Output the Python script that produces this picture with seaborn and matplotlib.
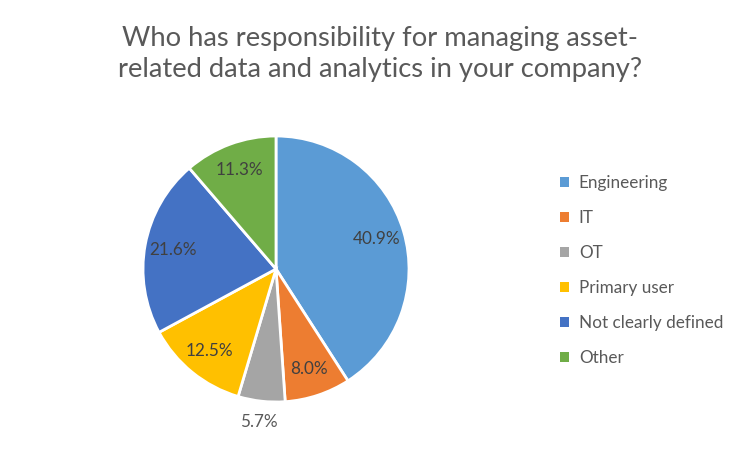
import matplotlib
matplotlib.use("Agg")
import matplotlib.pyplot as plt
import seaborn as sns
import numpy as np
from matplotlib.patches import Patch

categories = ["Engineering", "IT", "OT", "Primary user", "Not clearly defined", "Other"]
values = [40.9, 8.0, 5.7, 12.5, 21.6, 11.3]
colors_hex = ["#5B9BD5", "#ED7D31", "#A5A5A5", "#FFC000", "#4472C4", "#70AD47"]
title = "Who has responsibility for managing asset-\nrelated data and analytics in your company?"

sns.set_theme(style="white")
plt.rcParams['font.family'] = ['Lato', 'DejaVu Sans']
palette = sns.color_palette(colors_hex)

W, H = 748, 449
fig = plt.figure(figsize=(W / 100, H / 100), dpi=100)
cx, cy, r = 276, 269, 133
ax = fig.add_axes([(cx - r) / W, (H - cy - r) / H, 2 * r / W, 2 * r / H])

wedges, texts, autotexts = ax.pie(
    values, colors=palette, startangle=90, counterclock=False,
    autopct=lambda p: f"{p:.1f}%", pctdistance=0.79,
    wedgeprops=dict(edgecolor="white", linewidth=2),
    textprops=dict(color="#404040", fontsize=12.3),
)
# small OT slice label is placed outside the pie
w = wedges[2]
mid = np.deg2rad((w.theta1 + w.theta2) / 2)
autotexts[2].set_position((1.16 * np.cos(mid), 1.16 * np.sin(mid)))
autotexts[2].set_color("#595959")

ax.set_xlim(-1, 1)
ax.set_ylim(-1, 1)
ax.set_aspect("equal")
ax.axis("off")

fig.text(380 / W, 1 - 54 / H, title, ha="center", va="center",
         fontsize=19.7, color="#595959", linespacing=1.32)

handles = [Patch(facecolor=c, edgecolor="none") for c in palette]
leg = fig.legend(handles, categories, loc="upper left",
                 bbox_to_anchor=(560 / W, 1 - 175 / H), frameon=False,
                 handlelength=0.5, handleheight=0.5, handletextpad=0.6,
                 labelspacing=1.11, fontsize=12.3, labelcolor="#595959",
                 borderpad=0, borderaxespad=0)

fig.savefig("out.png", dpi=100, facecolor="white")
